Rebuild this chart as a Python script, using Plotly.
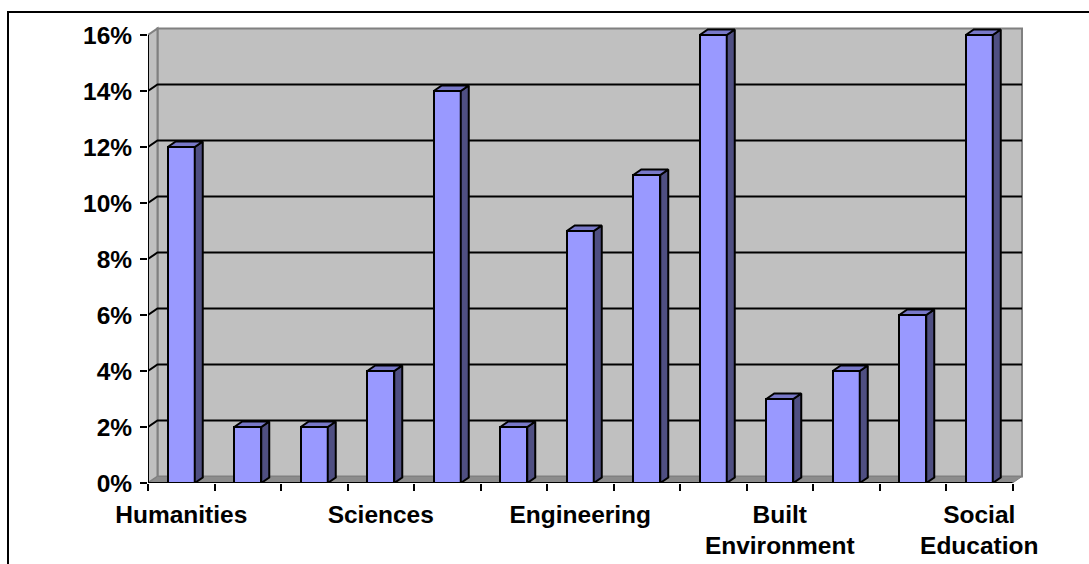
import plotly.graph_objects as go

# Share of respondents per faculty group (percent)
values = [12, 2, 2, 4, 14, 2, 9, 11, 16, 3, 4, 6, 16]
label_positions = [0, 3, 6, 9, 12]
label_text = ["Humanities", "Sciences", "Engineering", "Built<br>Environment", "Social<br>Education"]
y_ticks = [0, 2, 4, 6, 8, 10, 12, 14, 16]

n = len(values)
ymax = 16

# pixel geometry of the plotting area
W, H = 1089, 564
PX_LEFT, PX_RIGHT, PX_TOP, PX_BOTTOM = 148, 1030, 20, 483
PX_PER_CAT = 66.5
PX_PER_PCT = 28.0
x_range = [0, (PX_RIGHT - PX_LEFT) / PX_PER_CAT]
y_range = [0, (PX_BOTTOM - PX_TOP) / PX_PER_PCT]

# 3-D depth of walls and columns (data units)
WDX, WDY = 9.5 / PX_PER_CAT, 6.5 / PX_PER_PCT
BDX, BDY = 8.0 / PX_PER_CAT, 5.5 / PX_PER_PCT
BAR_W = 27.0 / PX_PER_CAT

FRONT = "#9999FF"
SIDE = "#4F4F82"
TOP = "#7878C8"
WALL = "#C0C0C0"
WALL_EDGE = "#808080"
FLOOR = "#8C8C8C"

FONT = dict(family="Liberation Sans, Arial, sans-serif", size=24.5, color="black", weight="bold")


def path(points):
    return "M " + " L ".join(f"{x},{y}" for x, y in points) + " Z"


shapes = []
# back wall
shapes.append(dict(type="path", xref="x", yref="y", layer="below",
                   path=path([(WDX, WDY), (n + WDX, WDY), (n + WDX, ymax + WDY), (WDX, ymax + WDY)]),
                   fillcolor=WALL, line=dict(color=WALL_EDGE, width=2)))
# side wall
shapes.append(dict(type="path", xref="x", yref="y", layer="below",
                   path=path([(0, 0), (WDX, WDY), (WDX, ymax + WDY), (0, ymax)]),
                   fillcolor=WALL, line=dict(color=WALL_EDGE, width=2)))
# floor
shapes.append(dict(type="path", xref="x", yref="y", layer="below",
                   path=path([(0, 0), (n, 0), (n + WDX, WDY), (WDX, WDY)]),
                   fillcolor=FLOOR, line=dict(color=WALL_EDGE, width=1)))
# gridlines across side wall and back wall
for v in y_ticks[1:-1]:
    shapes.append(dict(type="path", xref="x", yref="y", layer="below",
                       path=f"M 0,{v} L {WDX},{v + WDY} L {n + WDX},{v + WDY}",
                       line=dict(color="black", width=2)))


def px_to_paper_x(px):
    return (px - PX_LEFT) / (PX_RIGHT - PX_LEFT)


def px_to_paper_y(py):
    return (PX_BOTTOM - py) / (PX_BOTTOM - PX_TOP)


# outer chart frame
shapes.append(dict(type="rect", xref="paper", yref="paper",
                   x0=px_to_paper_x(8), x1=px_to_paper_x(1200),
                   y0=px_to_paper_y(700), y1=px_to_paper_y(12),
                   line=dict(color="black", width=2), fillcolor="rgba(0,0,0,0)"))

fig = go.Figure()

# axis lines (front edge)
fig.add_trace(go.Scatter(x=[0, 0, n], y=[ymax, 0, 0], mode="lines",
                         line=dict(color="black", width=2), hoverinfo="skip", showlegend=False))

centers = [i + 0.5 for i in range(n)]

# column front faces
fig.add_trace(go.Bar(x=centers, y=values, width=BAR_W,
                     marker=dict(color=FRONT, line=dict(color="black", width=2)),
                     showlegend=False))

# column side and top faces
side_x, side_y, top_x, top_y = [], [], [], []
for c, v in zip(centers, values):
    x0, x1 = c - BAR_W / 2, c + BAR_W / 2
    side_x += [x1, x1 + BDX, x1 + BDX, x1, x1, None]
    side_y += [0, BDY, v + BDY, v, 0, None]
    top_x += [x0, x0 + BDX, x1 + BDX, x1, x0, None]
    top_y += [v, v + BDY, v + BDY, v, v, None]

fig.add_trace(go.Scatter(x=side_x, y=side_y, mode="lines", fill="toself", fillcolor=SIDE,
                         line=dict(color="black", width=2), hoverinfo="skip", showlegend=False))
fig.add_trace(go.Scatter(x=top_x, y=top_y, mode="lines", fill="toself", fillcolor=TOP,
                         line=dict(color="black", width=2), hoverinfo="skip", showlegend=False))

# category labels on an overlaid axis
fig.add_trace(go.Scatter(x=[None], y=[None], xaxis="x2", showlegend=False, hoverinfo="skip"))

fig.update_layout(
    width=W, height=H,
    margin=dict(l=PX_LEFT, r=W - PX_RIGHT, t=PX_TOP, b=H - PX_BOTTOM, autoexpand=False),
    paper_bgcolor="white", plot_bgcolor="white",
    shapes=shapes,
    bargap=0,
    xaxis=dict(range=x_range, tickmode="array", tickvals=list(range(n + 1)),
               ticks="outside", ticklen=7, tickwidth=2, tickcolor="black",
               showticklabels=False, showgrid=False, zeroline=False, showline=False,
               fixedrange=True),
    xaxis2=dict(range=x_range, overlaying="x", side="bottom", anchor="y",
                tickmode="array", tickvals=[p + 0.5 for p in label_positions], ticktext=label_text,
                ticks="", tickfont=FONT, ticklabelstandoff=14,
                showgrid=False, zeroline=False, showline=False, fixedrange=True),
    yaxis=dict(range=y_range, tickmode="array", tickvals=y_ticks,
               ticktext=[f"{v}%" for v in y_ticks],
               ticks="outside", ticklen=7, tickwidth=2, tickcolor="black",
               tickfont=FONT, ticklabelstandoff=3,
               showgrid=False, zeroline=False, showline=False, fixedrange=True),
)

fig.write_html("out.html")
